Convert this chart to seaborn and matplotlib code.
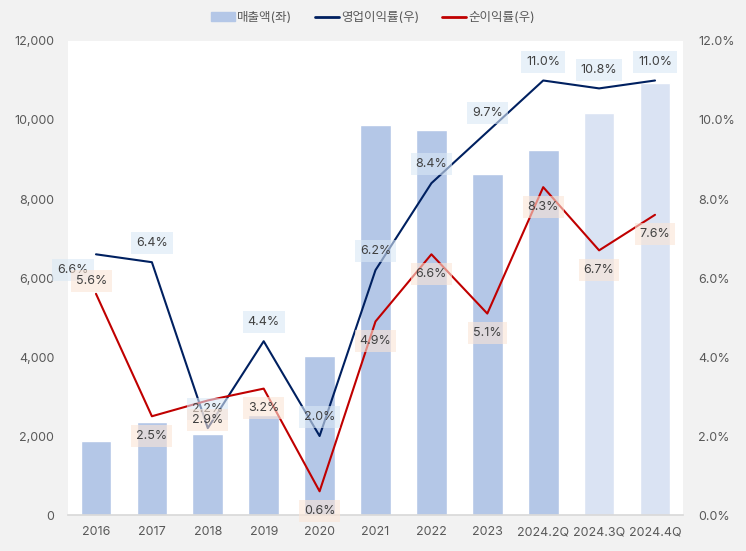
import numpy as np
import pandas as pd
import matplotlib
matplotlib.use("Agg")
import matplotlib.pyplot as plt
import seaborn as sns
from matplotlib.patches import Patch
from matplotlib.lines import Line2D

# data
periods = ['2016', '2017', '2018', '2019', '2020', '2021', '2022', '2023',
           '2024.2Q', '2024.3Q', '2024.4Q']
sales = [1870, 2350, 2050, 2530, 4020, 9870, 9750, 8630, 9240, 10180, 10940]
op_margin = [6.6, 6.4, 2.2, 4.4, 2.0, 6.2, 8.4, 9.7, 11.0, 10.8, 11.0]
net_margin = [5.6, 2.5, 2.9, 3.2, 0.6, 4.9, 6.6, 5.1, 8.3, 6.7, 7.6]
is_estimate = [False] * 9 + [True, True]

sns.set_theme(style="white")
plt.rcParams['font.family'] = ['Inter', 'Noto Sans CJK KR', 'DejaVu Sans']

bar_col = '#b4c7e7'
bar_col_est = '#dae3f3'
op_col = '#002060'
net_col = '#c00000'
txt_col = '#595959'

df = pd.DataFrame({'period': periods, 'sales': sales,
                   'op': op_margin, 'net': net_margin})
df['x'] = np.arange(len(df))
bar_colors = [bar_col_est if e else bar_col for e in is_estimate]

fig = plt.figure(figsize=(7.46, 5.51), dpi=100, facecolor='#f2f2f2')
ax = fig.add_axes([0.0912, 0.0653, 0.8243, 0.8603])
ax.set_facecolor('white')

sns.barplot(data=df, x='period', y='sales', hue='period', palette=bar_colors,
            legend=False, width=0.55, ax=ax, saturation=1)
ax.set_xlim(-0.5, len(df) - 0.5)
ax.set_ylim(0, 12000)
ax.set_yticks(np.arange(0, 12001, 2000))
ax.set_yticklabels([f'{v:,}' for v in range(0, 12001, 2000)])
ax.set_xlabel('')
ax.set_ylabel('')

ax2 = ax.twinx()
sns.lineplot(data=df, x='x', y='op', color=op_col, lw=1.5, ax=ax2)
sns.lineplot(data=df, x='x', y='net', color=net_col, lw=1.5, ax=ax2)
ax2.set_ylim(0, 12)
ax2.set_yticks(np.arange(0, 12.1, 2))
ax2.set_yticklabels([f'{v:.1f}%' for v in np.arange(0, 12.1, 2)])
ax2.set_xlim(-0.5, len(df) - 0.5)
ax2.set_ylabel('')

for a in (ax, ax2):
    for s in ['top', 'left', 'right']:
        a.spines[s].set_visible(False)
    a.spines['bottom'].set_color('#d9d9d9')
    a.tick_params(axis='both', length=0, colors=txt_col, labelsize=9)
ax.tick_params(axis='y', pad=10)
ax.tick_params(axis='x', pad=8)
ax2.tick_params(axis='y', pad=11)
ax2.spines['bottom'].set_visible(False)

# data labels
for i, v in enumerate(op_margin):
    off = (-16.5, -11.5) if i == 0 else (0, 13.5)
    ax2.annotate(f'{v:.1f}%', (i, v), xytext=off, textcoords='offset points',
                 ha='center', va='center', fontsize=9, color='#404040',
                 bbox=dict(boxstyle='square,pad=0.4', fc='#dae8f5', ec='none', alpha=0.6))
for i, v in enumerate(net_margin):
    off = (-3, 9.5) if i == 0 else (0, -14)
    ax2.annotate(f'{v:.1f}%', (i, v), xytext=off, textcoords='offset points',
                 ha='center', va='center', fontsize=9, color='#404040',
                 bbox=dict(boxstyle='square,pad=0.4', fc='#fbe5d6', ec='none', alpha=0.6))

handles = [Patch(color=bar_col, label='매출액(좌)'),
           Line2D([], [], color=op_col, lw=2, label='영업이익률(우)'),
           Line2D([], [], color=net_col, lw=2, label='순이익률(우)')]
fig.legend(handles=handles, loc='center', bbox_to_anchor=(0.5, 0.967), ncol=3,
           frameon=False, fontsize=9, labelcolor=txt_col, handlelength=1.9,
           handletextpad=0.2, columnspacing=1.8)

fig.savefig('out.png', dpi=100, facecolor=fig.get_facecolor())
